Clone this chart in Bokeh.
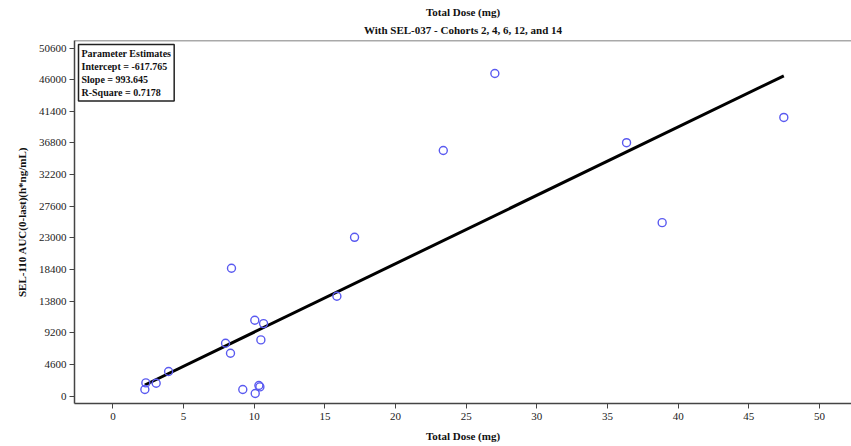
from bokeh.plotting import figure
from bokeh.models import Range1d, Span, Label, Title, FixedTicker
from bokeh.embed import file_html
from bokeh.resources import INLINE

# Data
dose = [2.26, 2.33, 3.06, 3.94, 7.97, 8.32, 8.39, 9.19, 10.04, 10.07, 10.33,
        10.40, 10.47, 10.66, 15.85, 17.10, 23.38, 27.03, 36.35, 38.87, 47.48]
auc = [970, 1930, 1890, 3590, 7700, 6240, 18590, 970, 11040, 390, 1550,
       1350, 8180, 10550, 14520, 23090, 35700, 46900, 36840, 25220, 40510]

intercept = -617.765
slope = 993.645
r_square = 0.7178

x_ticks = [0, 5, 10, 15, 20, 25, 30, 35, 40, 45, 50]
y_ticks = [0, 4600, 9200, 13800, 18400, 23000, 27600, 32200, 36800, 41400, 46000, 50600]

title_main = "Total Dose (mg)"
title_sub = "With SEL-037 - Cohorts 2, 4, 6, 12, and 14"
x_label = "Total Dose (mg)"
y_label = "SEL-110 AUC(0-last)(h*ng/mL)"

FONT = "Liberation Serif"
AXIS_COLOR = "#444444"

y_end = 51690
p = figure(width=851, height=446, output_backend="svg", toolbar_location=None,
           x_range=Range1d(-2.72, 52.27), y_range=Range1d(-1060, y_end),
           min_border_left=74, min_border_right=0, min_border_top=40,
           min_border_bottom=43)
p.title = None
p.outline_line_color = None
p.xgrid.visible = False
p.ygrid.visible = False
p.background_fill_color = "white"
p.border_fill_color = "white"

sub = Title(text=title_sub, align="center", text_font=FONT, text_font_size="11px",
            text_font_style="bold", text_color="#111111", standoff=10, offset=5)
main = Title(text=title_main, align="center", text_font=FONT, text_font_size="11px",
             text_font_style="bold", text_color="#111111", standoff=-3, offset=5)
p.add_layout(sub, "above")
p.add_layout(main, "above")

# top border line
p.add_layout(Span(location=y_end, dimension="width", line_color="#555555", line_width=1.5))

for ax in (p.xaxis[0], p.yaxis[0]):
    ax.axis_line_color = AXIS_COLOR
    ax.axis_line_width = 1.5
    ax.major_tick_line_color = AXIS_COLOR
    ax.major_tick_line_width = 1
    ax.major_tick_in = 0
    ax.major_tick_out = 5
    ax.minor_tick_line_color = None
    ax.major_label_text_font = FONT
    ax.major_label_text_font_size = "11px"
    ax.major_label_text_color = "#222222"
    ax.axis_label_text_font = FONT
    ax.axis_label_text_font_size = "11px"
    ax.axis_label_text_font_style = "bold"
    ax.axis_label_text_color = "#111111"

p.xaxis[0].ticker = FixedTicker(ticks=x_ticks)
p.yaxis[0].ticker = FixedTicker(ticks=y_ticks)
p.xaxis[0].axis_label = x_label
p.yaxis[0].axis_label = y_label
p.xaxis[0].major_label_standoff = 4
p.xaxis[0].axis_label_standoff = 7
p.yaxis[0].major_label_standoff = 3
p.yaxis[0].axis_label_standoff = 8

# regression line
x0, x1 = min(dose), max(dose)
p.line([x0, x1], [intercept + slope * x0, intercept + slope * x1],
       line_color="black", line_width=3)

p.scatter(dose, auc, marker="circle", size=8, fill_color=None,
          line_color="#5a5af0", line_width=1.4)

box_text = ("Parameter Estimates\n"
            f"Intercept = {intercept}\n"
            f"Slope = {slope}\n"
            f"R-Square = {r_square}")
lab = Label(x=4, y=359, x_units="screen", y_units="screen", text=box_text,
            anchor="top_left", text_font=FONT, text_font_size="10px",
            text_font_style="bold", text_color="#111111",
            border_line_color="#222222", border_line_width=1.5,
            background_fill_color="white", padding=3, text_line_height=1.2)
p.add_layout(lab)

open("out.html", "w").write(file_html(p, INLINE))
